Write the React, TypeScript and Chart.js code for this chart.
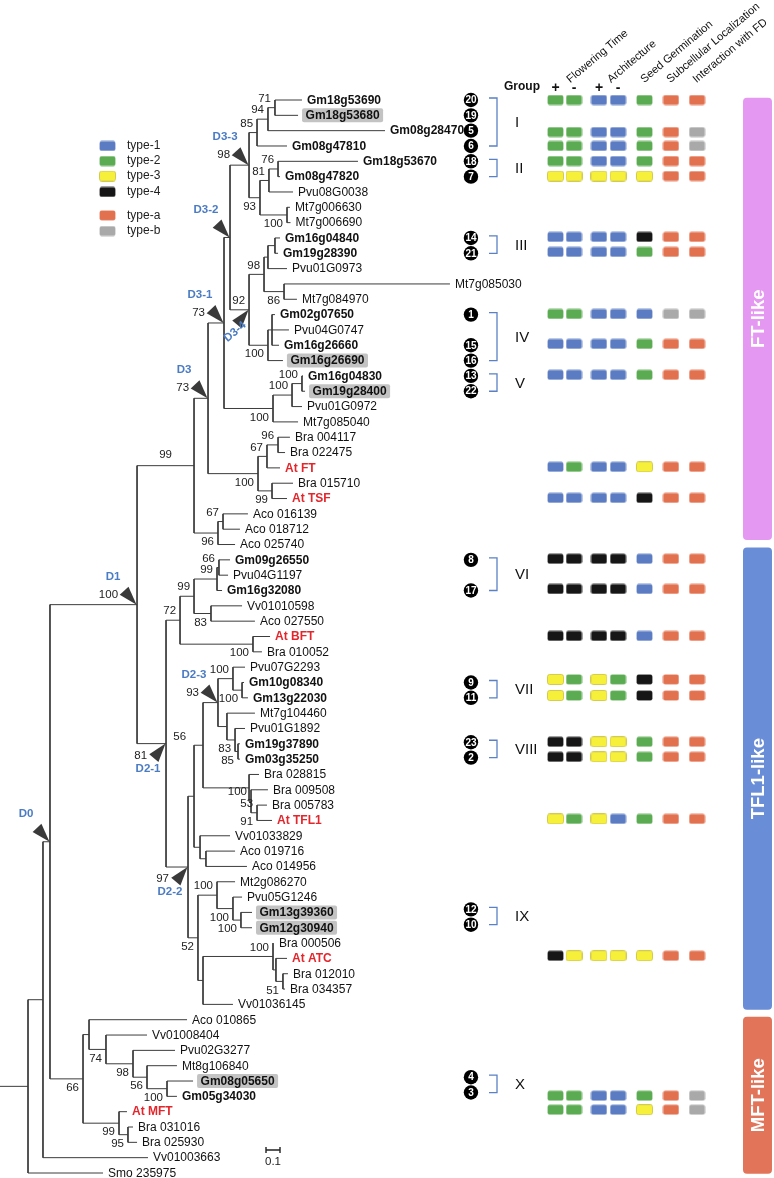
import React, { useEffect, useRef } from "react";
import { Chart, registerables } from "chart.js";

Chart.register(...registerables);

// ---------------- data ----------------
const leafNames = [
  "Gm18g53690", "Gm18g53680", "Gm08g28470", "Gm08g47810", "Gm18g53670", "Gm08g47820", "Pvu08G0038", "Mt7g006630", "Mt7g006690", "Gm16g04840",
  "Gm19g28390", "Pvu01G0973", "Mt7g085030", "Mt7g084970", "Gm02g07650", "Pvu04G0747", "Gm16g26660", "Gm16g26690", "Gm16g04830", "Gm19g28400",
  "Pvu01G0972", "Mt7g085040", "Bra 004117", "Bra 022475", "At FT", "Bra 015710", "At TSF", "Aco 016139", "Aco 018712", "Aco 025740",
  "Gm09g26550", "Pvu04G1197", "Gm16g32080", "Vv01010598", "Aco 027550", "At BFT", "Bra 010052", "Pvu07G2293", "Gm10g08340", "Gm13g22030",
  "Mt7g104460", "Pvu01G1892", "Gm19g37890", "Gm03g35250", "Bra 028815", "Bra 009508", "Bra 005783", "At TFL1", "Vv01033829", "Aco 019716",
  "Aco 014956", "Mt2g086270", "Pvu05G1246", "Gm13g39360", "Gm12g30940", "Bra 000506", "At ATC", "Bra 012010", "Bra 034357", "Vv01036145",
  "Aco 010865", "Vv01008404", "Pvu02G3277", "Mt8g106840", "Gm08g05650", "Gm05g34030", "At MFT", "Bra 031016", "Bra 025930", "Vv01003663",
  "Smo 235975",
];
// tip distance from the left edge (substitutions/site)
const leafTips = [
  2.157, 2.129, 2.75, 2.05, 2.557, 2.0, 2.093, 2.071, 2.075, 2.0,
  1.986, 2.05, 3.214, 2.121, 1.964, 2.064, 1.993, 2.021, 2.164, 2.179,
  2.157, 2.129, 2.071, 2.036, 2.0, 2.093, 2.05, 1.771, 1.714, 1.679,
  1.643, 1.629, 1.586, 1.729, 1.821, 1.929, 1.871, 1.75, 1.743, 1.771,
  1.821, 1.75, 1.714, 1.714, 1.85, 1.914, 1.907, 1.943, 1.643, 1.679,
  1.764, 1.679, 1.729, 1.8, 1.8, 1.957, 2.05, 2.057, 2.036, 1.664,
  1.336, 1.05, 1.25, 1.264, 1.379, 1.264, 0.907, 0.95, 0.979, 1.057,
  0.736,
];
// n = normal, b = bold, h = bold highlighted, r = bold red
const leafStyles = "bhbbbbnnnb" + "bnnnbnbhbh" + "nnnnrnrnnn" + "bnbnnrnnbb" + "nnbbnnnrnn" + "nnnhhnrnnn" + "nnnnhbrnnnn";

// internal nodes: [id, depth, children, bootstrap, label placement]
const treeNodes: [string, number, (number | string)[], string, string][] = [
  ["c71", 1.964, [0, 1], "71", "a"],
  ["c94", 1.914, ["c71", 2], "94", "a"],
  ["c85", 1.836, ["c94", 3], "85", "a"],
  ["c76", 1.986, [4, 5], "76", "a"],
  ["c81", 1.921, ["c76", 6], "81", "a"],
  ["cMt1", 2.05, [7, 8], "100", "b"],
  ["c93", 1.857, ["c81", "cMt1"], "93", "b"],
  ["D33", 1.779, ["c85", "c93"], "98", ""],
  ["cGm16a", 1.964, [9, 10], "", ""],
  ["cPvu01", 1.914, ["cGm16a", 11], "", ""],
  ["c86", 2.029, [12, 13], "86", "b"],
  ["c98", 1.886, ["cPvu01", "c86"], "98", "a"],
  ["cIV", 1.943, [14, 15, 16], "", ""],
  ["c100IV", 1.914, ["cIV", 17], "100", "b"],
  ["D34", 1.779, ["c98", "c100IV"], "92", "a"],
  ["D32", 1.643, ["D33", "D34"], "", ""],
  ["cV1", 2.157, [18, 19], "100", "a"],
  ["cV2", 2.086, ["cV1", 20], "100", "a"],
  ["cV3", 1.95, ["cV2", 21], "100", "b"],
  ["D31", 1.6, ["D32", "cV3"], "73", ""],
  ["c96", 1.986, [22, 23], "96", "a"],
  ["c67", 1.907, ["c96", 24], "67", "a"],
  ["c99", 1.943, [25, 26], "99", "b"],
  ["c100FT", 1.843, ["c67", "c99"], "100", "b"],
  ["D3", 1.486, ["D31", "c100FT"], "73", ""],
  ["cAco67", 1.593, [27, 28], "67", "a"],
  ["cAco96", 1.557, ["cAco67", 29], "96", "b"],
  ["FT", 1.386, ["D3", "cAco96"], "99", "m"],
  ["c66", 1.564, [30, 31], "66", "a"],
  ["c99b", 1.55, ["c66", 32], "99", "a"],
  ["c83", 1.507, [33, 34], "83", "b"],
  ["c99c", 1.386, ["c99b", "c83"], "99", "a"],
  ["cBFT", 1.807, [35, 36], "100", "b"],
  ["c72", 1.286, ["c99c", "cBFT"], "72", "a"],
  ["cGm10", 1.729, [38, 39], "100", "b"],
  ["cPvu07", 1.664, [37, "cGm10"], "100", "a"],
  ["c85b", 1.7, [42, 43], "85", "b"],
  ["c83b", 1.679, [41, "c85b"], "83", "b"],
  ["cMt7", 1.621, [40, "c83b"], "", ""],
  ["D23", 1.557, ["cPvu07", "cMt7"], "93", ""],
  ["c91", 1.836, [46, 47], "91", "b"],
  ["c100T", 1.793, [45, "c91"], "100", "a"],
  ["cTFL", 1.779, [44, "c100T"], "", ""],
  ["c56", 1.45, ["D23", "cTFL"], "56", "p"],
  ["cAco2", 1.471, [49, 50], "", ""],
  ["cVvA", 1.429, [48, "cAco2"], "", ""],
  ["c194", 1.386, ["c56", "cVvA"], "", ""],
  ["cGm13", 1.721, [53, 54], "100", "b"],
  ["cPvu05", 1.664, [52, "cGm13"], "100", "b"],
  ["cMt2", 1.55, [51, "cPvu05"], "100", "a"],
  ["c51", 2.021, [57, 58], "51", "b"],
  ["cATC", 1.971, [56, "c51"], "", ""],
  ["cATC100", 1.95, [55, "cATC"], "100", "a"],
  ["cVv2", 1.45, ["cATC100", 59], "", ""],
  ["c52", 1.414, ["cMt2", "cVv2"], "52", "b"],
  ["D22", 1.343, ["c194", "c52"], "97", ""],
  ["D21", 1.186, ["c72", "D22"], "81", ""],
  ["D1", 0.979, ["FT", "D21"], "100", ""],
  ["cGm08", 1.193, [64, 65], "100", "b"],
  ["c56m", 1.05, [63, "cGm08"], "56", "b"],
  ["c98m", 0.95, [62, "c56m"], "98", "b"],
  ["c74", 0.757, [61, "c98m"], "74", "b"],
  ["cAco", 0.636, [60, "c74"], "", ""],
  ["c95", 0.914, [67, 68], "95", "b"],
  ["c99m", 0.85, [66, "c95"], "99", "b"],
  ["MFT", 0.593, ["cAco", "c99m"], "66", "b"],
  ["D0", 0.357, ["D1", "MFT"], "", ""],
  ["n43", 0.307, ["D0", 69], "", ""],
  ["root", 0.2, ["n43", 70], "", ""],
];
const extraSupports: [string, string, string][] = [["c91", "53", "a"]];

// duplication markers: [node, label, direction, rotated label]
const markers: [string, string, string, boolean][] = [
  ["D0", "D0", "dr", false],
  ["D1", "D1", "dr", false],
  ["D3", "D3", "dr", false],
  ["D31", "D3-1", "dr", false],
  ["D32", "D3-2", "dr", false],
  ["D33", "D3-3", "dr", false],
  ["D34", "D3-4", "ur", true],
  ["D23", "D2-3", "dr", false],
  ["D21", "D2-1", "ur", false],
  ["D22", "D2-2", "ur", false],
];

// numbered soybean genes
const circleNumbers = [20, 19, 5, 6, 18, 7, 14, 21, 1, 15, 16, 13, 22, 8, 17, 9, 11, 23, 2, 12, 10, 4, 3];
const circleRows = [0, 1, 2, 3, 4, 5, 9, 10, 14, 16, 17, 18, 19, 30, 32, 38, 39, 41.9, 42.9, 52.8, 53.8, 63.75, 64.75];

const groupNames = ["I", "II", "III", "IV", "V", "VI", "VII", "VIII", "IX", "X"];
const groupFirstRow = [0, 4, 9, 14, 18, 30, 38, 41.9, 52.8, 63.75];
const groupLastRow = [3, 5, 10, 17, 19, 32, 39, 42.9, 53.8, 64.75];

// trait matrix rows and columns (1-4 = type-1..4, a/b = type-a/b)
const traitRows = [0, 2.09, 3.0, 3.98, 4.96, 8.93, 9.91, 13.96, 15.91, 17.93, 23.93, 25.96, 29.93, 31.9, 34.96, 37.8, 38.85, 41.87, 42.85, 46.9, 55.83, 64.96, 65.87];
const floweringPlus = "22223112111144433443422";
const floweringMinus = "22223112112144422442322";
const architecturePlus = "11113111111144433333311";
const architectureMinus = "11113111111144422331311";
const seedGermination = "22223421223411144222323";
const subcellular = "aaaaaaabaaaaaaaaaaaaaaa";
const interactionFD = "abbaaaabaaaaaaaaaaaaabb";
const traitHeaders = ["Flowering Time", "Architecture", "Seed Germination", "Subcellular Localization", "Interaction with FD"];

const legendCodes = ["1", "2", "3", "4", "a", "b"];
const legendLabels = ["type-1", "type-2", "type-3", "type-4", "type-a", "type-b"];
const legendRows = [3.0, 3.98, 4.96, 6.0, 7.53, 8.55];

const bandLabels = ["FT-like", "TFL1-like", "MFT-like"];
const bandFrom = [-0.15, 29.2, 59.8];
const bandTo = [28.7, 59.35, 70.05];
const bandColors = ["#e598f1", "#6a8dd7", "#e27459"];

const scaleBarLength = 0.1;

// ---------------- styling / layout ----------------
const W = 774;
const H = 1178;
const ROW = 1073 / 70;
const FONT = '"Liberation Sans", Arial, Helvetica, sans-serif';
const typeColors: Record<string, string> = {
  "1": "#5b7cc2",
  "2": "#5bab52",
  "3": "#f7f03b",
  "4": "#161616",
  a: "#e2714f",
  b: "#a9a9a9",
};
const colSlots = [0, 1, 2.35, 3.38, 4.81, 6.24, 7.65];
const headerSlots = [0.8, 3.0, 4.8, 6.2, 7.62];
const circleSlot = -4.57;

function rr(ctx: CanvasRenderingContext2D, x: number, y: number, w: number, h: number, r: number) {
  ctx.beginPath();
  ctx.moveTo(x + r, y);
  ctx.lineTo(x + w - r, y);
  ctx.quadraticCurveTo(x + w, y, x + w, y + r);
  ctx.lineTo(x + w, y + h - r);
  ctx.quadraticCurveTo(x + w, y + h, x + w - r, y + h);
  ctx.lineTo(x + r, y + h);
  ctx.quadraticCurveTo(x, y + h, x, y + h - r);
  ctx.lineTo(x, y + r);
  ctx.quadraticCurveTo(x, y, x + r, y);
  ctx.closePath();
}

function makeCell(code: string): HTMLCanvasElement {
  const c = document.createElement("canvas");
  c.width = 17;
  c.height = 11;
  const g = c.getContext("2d")!;
  rr(g, 0.5, 0.5, 16, 10, 2.2);
  g.fillStyle = typeColors[code];
  g.fill();
  g.lineWidth = 0.8;
  g.strokeStyle = code === "3" ? "#c8c040" : "rgba(255,255,255,0.25)";
  g.stroke();
  return c;
}

// ---------------- tree layout ----------------
const nodeById = new Map<string, [string, number, (number | string)[], string, string]>();
treeNodes.forEach((n) => nodeById.set(n[0], n));
const parentOf = new Map<string, string>();
treeNodes.forEach((n) => n[2].forEach((k) => { if (typeof k === "string") parentOf.set(k, n[0]); }));
const nodeY = new Map<string, number>();
function yOf(k: number | string): number {
  if (typeof k === "number") return k;
  if (nodeY.has(k)) return nodeY.get(k)!;
  const n = nodeById.get(k)!;
  const ys = n[2].map(yOf);
  const y = (Math.min(...ys) + Math.max(...ys)) / 2;
  nodeY.set(k, y);
  return y;
}
function xOf(k: number | string): number {
  return typeof k === "number" ? leafTips[k] : nodeById.get(k)![1];
}
treeNodes.forEach((n) => yOf(n[0]));

function buildSegments() {
  const pts: { x: number; y: number }[] = [];
  const gap = { x: NaN, y: NaN };
  treeNodes.forEach(([id, x, kids]) => {
    const ys = kids.map(yOf);
    pts.push({ x, y: Math.min(...ys) }, { x, y: Math.max(...ys) }, gap);
    kids.forEach((k) => pts.push({ x, y: yOf(k) }, { x: xOf(k), y: yOf(k) }, gap));
  });
  const ry = yOf("root");
  pts.push({ x: 0, y: ry }, { x: xOf("root"), y: ry }, gap);
  return pts;
}

export default function App() {
  const ref = useRef<HTMLCanvasElement | null>(null);
  useEffect(() => {
    document.body.style.margin = "0";
    const canvas = ref.current!;
    const cols = [floweringPlus, floweringMinus, architecturePlus, architectureMinus, seedGermination, subcellular, interactionFD];
    const cellImgs: Record<string, HTMLCanvasElement> = {};
    Object.keys(typeColors).forEach((k) => (cellImgs[k] = makeCell(k)));
    const traitPts: { x: number; y: number }[] = [];
    const traitStyles: HTMLCanvasElement[] = [];
    traitRows.forEach((r, i) => {
      cols.forEach((col, j) => {
        traitPts.push({ x: colSlots[j], y: r });
        traitStyles.push(cellImgs[col[i]]);
      });
    });
    const sbY = 68.5;
    const sb0 = 1.9;
    const scaleBar = [
      { x: sb0, y: sbY - 0.2 }, { x: sb0, y: sbY + 0.2 }, { x: NaN, y: NaN },
      { x: sb0, y: sbY }, { x: sb0 + scaleBarLength, y: sbY }, { x: NaN, y: NaN },
      { x: sb0 + scaleBarLength, y: sbY - 0.2 }, { x: sb0 + scaleBarLength, y: sbY + 0.2 },
    ];

    const plugin = {
      id: "phyloDecor",
      beforeDatasetsDraw(chart: any) {
        const ctx: CanvasRenderingContext2D = chart.ctx;
        const Y = (v: number) => chart.scales.y.getPixelForValue(v);
        ctx.save();
        bandLabels.forEach((lab, i) => {
          const y1 = Y(bandFrom[i]);
          const y2 = Y(bandTo[i]);
          ctx.fillStyle = bandColors[i];
          rr(ctx, 743, y1, 29, y2 - y1, 4);
          ctx.fill();
          ctx.save();
          ctx.translate(758, (y1 + y2) / 2);
          ctx.rotate(-Math.PI / 2);
          ctx.fillStyle = "#ffffff";
          ctx.font = `bold 18.5px ${FONT}`;
          ctx.textAlign = "center";
          ctx.textBaseline = "middle";
          ctx.fillText(lab, 0, 1);
          ctx.restore();
        });
        ctx.restore();
      },
      afterDatasetsDraw(chart: any) {
        const ctx: CanvasRenderingContext2D = chart.ctx;
        const X = (v: number) => chart.scales.x.getPixelForValue(v);
        const Y = (v: number) => chart.scales.y.getPixelForValue(v);
        const T = (v: number) => chart.scales.xt.getPixelForValue(v);
        ctx.save();
        ctx.textBaseline = "middle";
        // leaf labels
        leafNames.forEach((name, i) => {
          const s = leafStyles[i];
          const x0 = X(leafTips[i]);
          const y0 = Y(i);
          ctx.font = `${s === "n" ? "" : "bold "}12px ${FONT}`;
          ctx.textAlign = "left";
          if (s === "h") {
            const tw = ctx.measureText(name).width;
            ctx.fillStyle = "#c3c3c3";
            rr(ctx, x0 + 4, y0 - 7, tw + 7, 14, 2);
            ctx.fill();
            ctx.fillStyle = "#111";
            ctx.fillText(name, x0 + 7.5, y0 + 0.5);
          } else {
            ctx.fillStyle = s === "r" ? "#e3262c" : "#111";
            ctx.fillText(name, x0 + 5, y0 + 0.5);
          }
        });
        // bootstrap values
        const markerDir = new Map<string, string>();
        markers.forEach((m) => markerDir.set(m[0], m[2]));
        ctx.font = `11.5px ${FONT}`;
        ctx.fillStyle = "#222";
        const drawSupport = (id: string, bs: string, pos: string) => {
          const n = nodeById.get(id)!;
          const nx = X(n[1]);
          const ny = Y(yOf(id));
          const par = parentOf.get(id);
          const px = par ? X(nodeById.get(par)![1]) : nx;
          ctx.textAlign = "right";
          if (pos === "a") ctx.fillText(bs, nx - 4, ny - 9);
          else if (pos === "b") ctx.fillText(bs, nx - 4, ny + 9);
          else if (pos === "m") { ctx.textAlign = "center"; ctx.fillText(bs, (px + nx) / 2, ny - 11); }
          else if (pos === "p") ctx.fillText(bs, px - 8, ny - 8);
          else if (markerDir.get(id) === "ur") ctx.fillText(bs, nx - 19, ny + 12);
          else ctx.fillText(bs, nx - 19, ny - 10);
        };
        treeNodes.forEach(([id, , , bs, pos]) => { if (bs) drawSupport(id, bs, pos); });
        extraSupports.forEach(([id, bs, pos]) => drawSupport(id, bs, pos));
        // duplication markers
        markers.forEach(([id, label, dir, rot]) => {
          const nx = X(nodeById.get(id)![1]);
          const ny = Y(yOf(id));
          const ang = (dir === "dr" ? 47 : -50) * Math.PI / 180;
          const L = 19;
          const hw = 6;
          const bx = nx - L * Math.cos(ang);
          const by = ny - L * Math.sin(ang);
          const ux = -Math.sin(ang);
          const uy = Math.cos(ang);
          ctx.fillStyle = "#3a3a3a";
          ctx.beginPath();
          ctx.moveTo(nx - 0.5, ny);
          ctx.lineTo(bx + ux * hw, by + uy * hw);
          ctx.lineTo(bx - ux * hw, by - uy * hw);
          ctx.closePath();
          ctx.fill();
          ctx.fillStyle = "#4a7bc3";
          ctx.font = `bold 11.5px ${FONT}`;
          ctx.textAlign = "center";
          if (rot) {
            ctx.save();
            ctx.translate(nx - 14, ny + 22);
            ctx.rotate(-40 * Math.PI / 180);
            ctx.fillText(label, 0, 0);
            ctx.restore();
          } else if (dir === "dr") ctx.fillText(label, nx - 24, ny - 28);
          else ctx.fillText(label, nx - 18, ny + 25);
        });
        // scale bar label
        ctx.fillStyle = "#222";
        ctx.font = `11.5px ${FONT}`;
        ctx.textAlign = "center";
        ctx.fillText(String(scaleBarLength), X(1.9 + scaleBarLength / 2), Y(69.25));
        // legend
        legendLabels.forEach((lab, i) => {
          const y = Y(legendRows[i]);
          ctx.drawImage(cellImgs[legendCodes[i]], 99, y - 5.5);
          ctx.fillStyle = "#222";
          ctx.font = `12px ${FONT}`;
          ctx.textAlign = "left";
          ctx.fillText(lab, 127, y);
        });
        // numbered circles
        ctx.fillStyle = "#fff";
        ctx.font = `bold 10px ${FONT}`;
        ctx.textAlign = "center";
        circleNumbers.forEach((n, i) => ctx.fillText(String(n), T(circleSlot), Y(circleRows[i]) + 0.5));
        // brackets and group names
        groupNames.forEach((g, i) => {
          const y1 = Y(groupFirstRow[i]) - 2;
          const y2 = Y(groupLastRow[i]);
          ctx.strokeStyle = "#5b80c4";
          ctx.lineWidth = 1.3;
          ctx.beginPath();
          ctx.moveTo(489, y1);
          ctx.lineTo(497, y1);
          ctx.lineTo(497, y2);
          ctx.lineTo(489, y2);
          ctx.stroke();
          ctx.fillStyle = "#111";
          ctx.font = `15px ${FONT}`;
          ctx.textAlign = "left";
          ctx.fillText(g, 515, (y1 + y2) / 2 + 1);
        });
        // header
        ctx.fillStyle = "#111";
        ctx.font = `bold 12px ${FONT}`;
        ctx.textAlign = "left";
        ctx.fillText("Group", 504, Y(-0.85));
        ctx.font = `bold 14px ${FONT}`;
        ctx.textAlign = "center";
        ["+", "-", "+", "-"].forEach((s, j) => ctx.fillText(s, T(colSlots[j]), Y(-0.8)));
        ctx.font = `11.2px ${FONT}`;
        ctx.textAlign = "left";
        ctx.textBaseline = "alphabetic";
        traitHeaders.forEach((h, j) => {
          ctx.save();
          ctx.translate(T(headerSlots[j]), Y(-1.1));
          ctx.rotate(-40 * Math.PI / 180);
          ctx.fillText(h, 0, 0);
          ctx.restore();
        });
        ctx.restore();
      },
    };

    const chart = new Chart(canvas, {
      type: "scatter",
      data: {
        datasets: [
          {
            data: buildSegments(),
            showLine: true,
            spanGaps: false,
            borderColor: "#3c3c3c",
            borderWidth: 1,
            pointRadius: 0,
            xAxisID: "x",
            yAxisID: "y",
          } as any,
          {
            data: scaleBar,
            showLine: true,
            spanGaps: false,
            borderColor: "#222",
            borderWidth: 1.4,
            pointRadius: 0,
            xAxisID: "x",
            yAxisID: "y",
          } as any,
          {
            data: traitPts,
            showLine: false,
            pointRadius: 6,
            pointHoverRadius: 6,
            pointStyle: (c: any) => traitStyles[c.dataIndex],
            xAxisID: "xt",
            yAxisID: "y",
          } as any,
          {
            data: circleRows.map((r) => ({ x: circleSlot, y: r })),
            showLine: false,
            pointStyle: "circle",
            pointRadius: 7.2,
            pointBackgroundColor: "#000",
            pointBorderWidth: 0,
            xAxisID: "xt",
            yAxisID: "y",
          } as any,
        ],
      },
      options: {
        animation: false,
        responsive: false,
        maintainAspectRatio: false,
        events: [],
        layout: { padding: 0, autoPadding: false },
        plugins: { legend: { display: false }, tooltip: { enabled: false } },
        scales: {
          x: { type: "linear", display: false, min: 0, max: W / 140 },
          xt: { type: "linear", axis: "x", display: false, min: -555.5 / 18.5, max: (W - 555.5) / 18.5 },
          y: { type: "linear", display: false, reverse: true, min: -100 / ROW, max: (H - 100) / ROW },
        },
      } as any,
      plugins: [plugin],
    });
    return () => chart.destroy();
  }, []);
  return <canvas ref={ref} width={W} height={H} style={{ display: "block" }} />;
}
